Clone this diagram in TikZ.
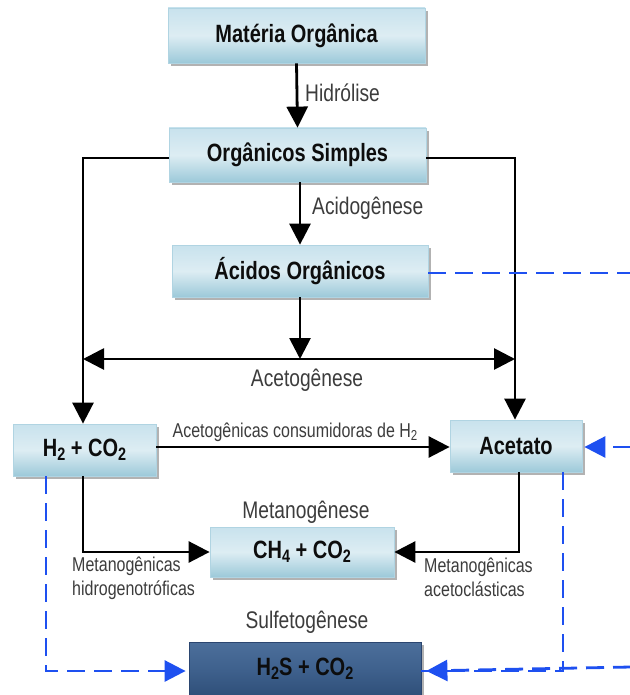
\documentclass[tikz,border=0pt]{standalone}
\usepackage{fontspec}
\usepackage{graphicx}
\setmainfont{Liberation Sans}[FakeStretch=0.8]
\usetikzlibrary{arrows.meta,shadows}
\definecolor{boxtop}{HTML}{C8E2ED}
\definecolor{boxmid}{HTML}{DDEDF3}
\definecolor{boxbot}{HTML}{9CC9D9}
\definecolor{boxline}{HTML}{B0D4E2}
\definecolor{dtop}{HTML}{4C6F9B}
\definecolor{dmid}{HTML}{3F618D}
\definecolor{dbot}{HTML}{2F4F79}
\definecolor{dline}{HTML}{2B4670}
\definecolor{lbl}{HTML}{3C3C3C}
\definecolor{bluedash}{HTML}{1E50F0}
\newcommand{\sbs}[1]{\raisebox{-0.3ex}{\scalebox{0.72}{#1}}}
\begin{document}
\begin{tikzpicture}[x=1pt,y=-1pt,
  box/.style={draw=boxline, line width=0.8pt, top color=boxtop, bottom color=boxbot, middle color=boxmid,
    font=\fontsize{25}{29}\selectfont\bfseries, text=black!95, inner sep=0pt,
    drop shadow={shadow xshift=3pt, shadow yshift=-3pt, fill=black!60, opacity=0.5}},
  darkbox/.style={box, draw=dline, top color=dtop, bottom color=dbot, middle color=dmid},
  biglabel/.style={font=\fontsize{24}{28}\selectfont, text=lbl, inner sep=0pt},
  smalllabel/.style={font=\fontsize{20}{24}\selectfont, text=lbl, inner sep=0pt, align=left},
  headtip/.style={-{Triangle[length=21pt,width=21pt]}},
  arr/.style={draw=black, line width=2.8pt, headtip},
  dbl/.style={draw=black, line width=2.8pt, {Triangle[length=21pt,width=21pt]}-{Triangle[length=21pt,width=21pt]}},
  bluearr/.style={draw=bluedash, line width=2.8pt, dash pattern=on 18pt off 9pt, headtip},
  blueline/.style={draw=bluedash, line width=2.8pt, dash pattern=on 18pt off 9pt}
]
\useasboundingbox (0,0) rectangle (629,695);

% boxes
\node[box, minimum width=257pt, minimum height=55pt] (mat) at (296.5,35.5) {Matéria Orgânica};
\node[box, minimum width=257pt, minimum height=54pt] (org) at (297.5,155) {Orgânicos Simples};
\node[box, minimum width=256pt, minimum height=52pt] (aci) at (300,271) {Ácidos Orgânicos};
\node[box, minimum width=143pt, minimum height=52pt] (h2) at (84.5,450) {H\sbs{2} + CO\sbs{2}};
\node[box, minimum width=132pt, minimum height=52pt] (acet) at (516,446) {Acetato};
\node[box, minimum width=184pt, minimum height=50pt] (ch4) at (302,552) {CH\sbs{4} + CO\sbs{2}};
\node[darkbox, minimum width=232pt, minimum height=54pt] (h2s) at (305,669) {H\sbs{2}S + CO\sbs{2}};

% labels
\node[biglabel, anchor=west] (lhid) at (305,93) {Hidrólise};
\node[biglabel, anchor=west] (lacid) at (312,208) {Acidogênese};
\node[biglabel] (laceto) at (307,380) {Acetogênese};
\node[smalllabel] (lcons) at (295,432) {Acetogênicas consumidoras de H\sbs{2}};
\node[biglabel] (lmet) at (306,512) {Metanogênese};
\node[smalllabel, anchor=west] (lhidro) at (72,578) {Metanogênicas\\hidrogenotróficas};
\node[smalllabel, anchor=west] (laceto2) at (424,577) {Metanogênicas\\acetoclásticas};
\node[biglabel] (lsulf) at (307,622) {Sulfetogênese};

% coordinates
\coordinate (dl) at (83,359);
\coordinate (dr) at (515,359);
\coordinate (mid) at (300,359);
\coordinate (redge1) at (631,273);
\coordinate (redge2) at (631,447);
\coordinate (redge3) at (631,667);

% black connectors
\draw[arr] (mat.south) -- (org.north);
\draw[arr] (org.south -| aci.north) -- (aci.north);
\draw[arr] ([yshift=-3pt]org.west) -| ([xshift=-1.5pt]h2.north);
\draw[arr] ([yshift=-3pt]org.east) -| ([xshift=-1pt]acet.north);
\draw[arr] (aci.south) -- (mid);
\draw[dbl] (dl) -- (dr);
\draw[arr] (h2.east |- redge2) -- (acet.west |- redge2);
\draw[arr] ([xshift=-1.5pt]h2.south) |- (ch4.west);
\draw[arr] ([xshift=3pt]acet.south) |- (ch4.east);

% blue dashed connectors
\draw[bluearr, shorten >=3pt] ([xshift=-38.5pt]h2.south) |- ([yshift=-2pt]h2s.west);
\draw[blueline] ([xshift=47pt]acet.south) |- ([yshift=-2pt]h2s.east);
\draw[bluearr, shorten >=5pt] (redge3) -- ([yshift=-2pt]h2s.east);
\draw[blueline] (aci.east |- redge1) -- (redge1);
\draw[bluearr, shorten >=2pt] (redge2) -- (acet.east |- redge2);
\end{tikzpicture}
\end{document}
